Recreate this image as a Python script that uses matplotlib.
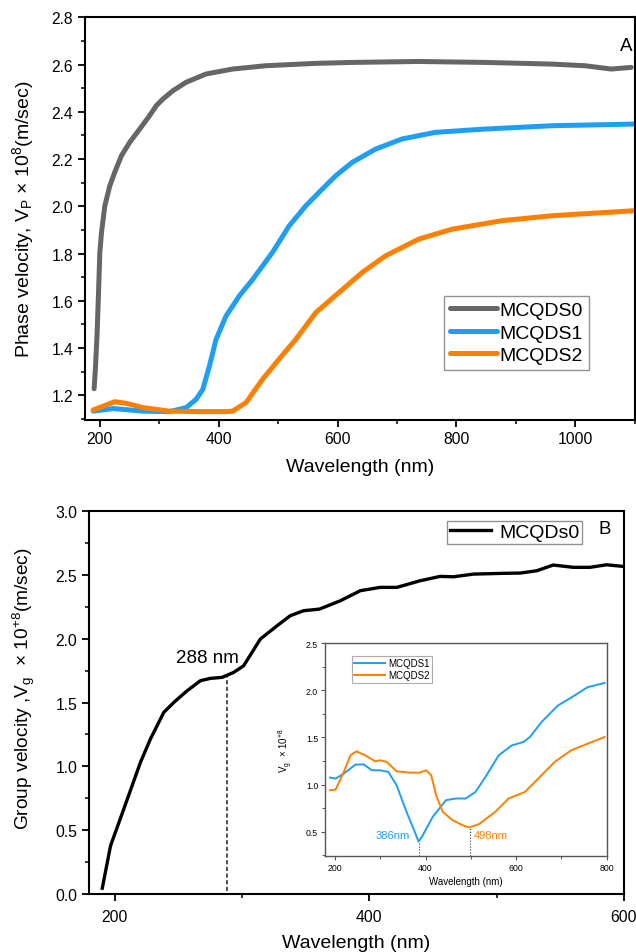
import numpy as np
import matplotlib
matplotlib.use("Agg")
import matplotlib.pyplot as plt
from matplotlib.ticker import MultipleLocator, FormatStrFormatter

plt.rcParams['font.family'] = ['Liberation Sans', 'DejaVu Sans']
plt.rcParams['mathtext.default'] = 'regular'

# --- Panel A: phase velocity ---
wl_s0 = [190.4, 192.8, 195.5, 197.8, 200, 202.8, 208.4, 216.8, 225.1, 236.3, 250.3, 267.1,
         283.8, 295, 306.1, 322.9, 345.2, 378.7, 423.4, 479.2, 563.3, 624.6, 736.5, 848.3,
         960, 1016, 1060.6, 1094]
vp_s0 = [1.228, 1.324, 1.467, 1.635, 1.805, 1.889, 2.002, 2.087, 2.144, 2.214, 2.271, 2.327,
         2.384, 2.426, 2.454, 2.489, 2.525, 2.56, 2.581, 2.595, 2.605, 2.609, 2.613, 2.609,
         2.602, 2.595, 2.581, 2.588]

wl_s1 = [188.8, 222.3, 272.6, 317.4, 345.2, 362, 373.2, 384.4, 395.6, 412.4, 434.7, 457,
         490.5, 518.5, 546.5, 568.8, 596.7, 624.7, 663.8, 708.5, 764.4, 848.2, 960, 1097]
vp_s1 = [1.133, 1.144, 1.133, 1.131, 1.148, 1.183, 1.225, 1.324, 1.437, 1.536, 1.621, 1.69,
         1.805, 1.917, 2.002, 2.059, 2.129, 2.186, 2.242, 2.285, 2.313, 2.327, 2.341, 2.348]

wl_s2 = [188.8, 225.1, 244.6, 272.6, 317.4, 367.6, 412.2, 423.4, 445.8, 473.8, 501.5, 529.7,
         563.3, 602.3, 641.4, 680.5, 736.4, 792.3, 876.1, 960, 1097]
vp_s2 = [1.138, 1.173, 1.166, 1.148, 1.133, 1.131, 1.131, 1.133, 1.169, 1.268, 1.353, 1.437,
         1.55, 1.635, 1.72, 1.79, 1.861, 1.903, 1.939, 1.96, 1.981]

# --- Panel B: group velocity of MCQDs0 ---
wl_g0 = [190.4, 196.9, 207.3, 220.4, 228.2, 238.7, 246.5, 257, 267.5, 275.3, 284.5, 293.6,
         301.4, 314.5, 327.6, 338, 348.5, 361, 377.3, 393, 408.6, 421.7, 440, 455.7, 466.1,
         481.8, 505.3, 518.4, 531.5, 544.5, 560.2, 573.3, 586.4, 599.5]
vg_g0 = [0.045, 0.378, 0.666, 1.032, 1.214, 1.423, 1.50, 1.592, 1.671, 1.689, 1.697, 1.736,
         1.788, 1.997, 2.101, 2.18, 2.219, 2.232, 2.297, 2.376, 2.402, 2.402, 2.454, 2.488, 2.485,
         2.506, 2.512, 2.514, 2.532, 2.577, 2.559, 2.559, 2.579, 2.566]

# inset: MCQDS1 and MCQDS2 group velocity
wl_g1 = [189.1, 201.5, 219.6, 245.1, 263.2, 281.5, 299.7, 317.8, 336.1, 357.9, 376, 384.7,
         394.1, 415.9, 445, 466.8, 488.6, 510.4, 532.2, 561.4, 590.4, 616, 630.5, 655.9,
         692.3, 728.7, 757.7, 795.4]
vg_g1 = [1.074, 1.063, 1.116, 1.211, 1.214, 1.151, 1.151, 1.134, 0.992, 0.711, 0.5, 0.394,
         0.464, 0.658, 0.834, 0.852, 0.852, 0.922, 1.08, 1.309, 1.415, 1.451, 1.504, 1.662,
         1.838, 1.943, 2.032, 2.077]

wl_g2 = [189.1, 201.5, 219.6, 234.2, 247.3, 266.9, 288.8, 299.7, 314.3, 336.1, 365.1, 386.9,
         401.5, 412.4, 423.3, 437.8, 459.6, 481.4, 496, 517.8, 554.1, 583.2, 619.6, 648.7,
         685, 721.3, 757.7, 795.4]
vg_g2 = [0.94, 0.947, 1.134, 1.31, 1.352, 1.31, 1.246, 1.257, 1.24, 1.14, 1.126, 1.126,
         1.151, 1.098, 0.887, 0.711, 0.622, 0.57, 0.545, 0.58, 0.711, 0.852, 0.922, 1.063,
         1.24, 1.362, 1.433, 1.504]

peak_main = (288, 1.70)
min_s1 = (386, 0.394)
min_s2 = (498, 0.545)

grey = '#666666'
blue = '#1E9FF5'
orange = '#FF8000'

fig = plt.figure(figsize=(6.36, 9.53), dpi=100)


def style_axis(ax, lw=1.5):
    for s in ax.spines.values():
        s.set_linewidth(lw)
    ax.tick_params(which='major', direction='out', length=5, width=1.3, labelsize=11.3)
    ax.tick_params(which='minor', direction='out', length=3, width=1.1)


line_kw = dict(lw=3.6, solid_capstyle='round', solid_joinstyle='round')

# panel A
ax1 = fig.add_axes([0.1336, 0.5586, 0.8644, 0.4222])
ax1.plot(wl_s0, vp_s0, color=grey, label='MCQDS0', **line_kw)
ax1.plot(wl_s1, vp_s1, color=blue, label='MCQDS1', **line_kw)
ax1.plot(wl_s2, vp_s2, color=orange, label='MCQDS2', **line_kw)
ax1.set_xlim(175, 1100)
ax1.set_ylim(1.097, 2.8)
ax1.xaxis.set_major_locator(MultipleLocator(200))
ax1.xaxis.set_minor_locator(MultipleLocator(100))
ax1.yaxis.set_major_locator(MultipleLocator(0.2))
ax1.yaxis.set_minor_locator(MultipleLocator(0.1))
ax1.yaxis.set_major_formatter(FormatStrFormatter('%.1f'))
style_axis(ax1)
ax1.set_xlabel('Wavelength (nm)', fontsize=14, labelpad=8)
ax1.set_ylabel(r'Phase velocity, V$_P$ × 10$^8$(m/sec)', fontsize=14, labelpad=11)
leg1 = ax1.legend(loc='upper left', bbox_to_anchor=(0.6535, 0.308), fontsize=14, frameon=True,
                  fancybox=False, handlelength=2.4, handletextpad=0.15, borderpad=0.3,
                  labelspacing=0.25, borderaxespad=0)
leg1.get_frame().set_edgecolor('#777777')
leg1.get_frame().set_linewidth(1.0)
ax1.text(0.995, 0.93, 'A', transform=ax1.transAxes, fontsize=13.5, ha='right', va='center')

# panel B
ax2 = fig.add_axes([0.140, 0.0609, 0.841, 0.4018])
ax2.plot(wl_g0, vg_g0, color='black', lw=2.4, label='MCQDs0', solid_joinstyle='round')
ax2.set_xlim(180, 600)
ax2.set_ylim(0, 3.0)
ax2.xaxis.set_major_locator(MultipleLocator(200))
ax2.xaxis.set_minor_locator(MultipleLocator(100))
ax2.yaxis.set_major_locator(MultipleLocator(0.5))
ax2.yaxis.set_minor_locator(MultipleLocator(0.25))
ax2.yaxis.set_major_formatter(FormatStrFormatter('%.1f'))
style_axis(ax2)
ax2.tick_params(axis='x', which='major', pad=6)
ax2.set_xlabel('Wavelength (nm)', fontsize=14, labelpad=7)
ax2.set_ylabel(r'Group velocity ,V$_g$  × 10$^{+8}$(m/sec)', fontsize=13.8)
ax2.yaxis.set_label_coords(-0.097, 0.538)
ax2.plot([peak_main[0], peak_main[0]], [0.02, peak_main[1]], color='#333333', lw=1.2,
         ls=(0, (2.5, 1.5)))
ax2.text(peak_main[0] - 15, peak_main[1] + 0.15, f'{peak_main[0]} nm', fontsize=13.5,
         ha='center', va='center')
leg2 = ax2.legend(loc='upper left', bbox_to_anchor=(0.67, 0.975), fontsize=14, frameon=True,
                  fancybox=False, handlelength=2.1, handletextpad=0.4, borderpad=0.15,
                  borderaxespad=0)
leg2.get_frame().set_edgecolor('#777777')
leg2.get_frame().set_linewidth(1.0)
ax2.text(0.975, 0.955, 'B', transform=ax2.transAxes, fontsize=13.5, ha='right', va='center')

# inset
ax3 = fig.add_axes([0.511, 0.1007, 0.443, 0.2235])
ax3.plot(wl_g1, vg_g1, color=blue, lw=1.4, label='MCQDS1', solid_joinstyle='round')
ax3.plot(wl_g2, vg_g2, color=orange, lw=1.4, label='MCQDS2', solid_joinstyle='round')
ax3.set_xlim(178, 800)
ax3.set_ylim(0.242, 2.5)
ax3.xaxis.set_major_locator(MultipleLocator(200))
ax3.xaxis.set_minor_locator(MultipleLocator(100))
ax3.yaxis.set_major_locator(MultipleLocator(0.5))
ax3.yaxis.set_minor_locator(MultipleLocator(0.25))
ax3.yaxis.set_major_formatter(FormatStrFormatter('%.1f'))
for s in ax3.spines.values():
    s.set_linewidth(1.0)
    s.set_edgecolor('#555555')
ax3.tick_params(which='major', direction='out', length=3, width=0.8, labelsize=6.3,
                color='#555555', pad=2)
ax3.tick_params(which='minor', direction='out', length=2, width=0.7, color='#555555')
ax3.set_xlabel('Wavelength (nm)', fontsize=7, labelpad=3)
ax3.set_ylabel(r'V$_g$  × 10$^{+8}$', fontsize=7, labelpad=8)
ax3.plot([min_s1[0], min_s1[0]], [0.242, min_s1[1]], color='#333333', lw=0.8, ls=':')
ax3.plot([min_s2[0], min_s2[0]], [0.242, min_s2[1]], color='#333333', lw=0.8, ls=':')
ax3.text(min_s1[0] - 20, 0.46, f'{min_s1[0]}nm', color=blue, fontsize=8, ha='right',
         va='center')
ax3.text(min_s2[0] + 8, 0.47, f'{min_s2[0]}nm', color=orange, fontsize=8, ha='left',
         va='center')
leg3 = ax3.legend(loc='upper left', bbox_to_anchor=(0.095, 0.94), fontsize=7, frameon=True,
                  fancybox=False, handlelength=3.2, handletextpad=0.3, borderpad=0.25,
                  labelspacing=0.2, borderaxespad=0)
leg3.get_frame().set_edgecolor('#999999')
leg3.get_frame().set_linewidth(0.8)

fig.savefig('out.png', dpi=100)
